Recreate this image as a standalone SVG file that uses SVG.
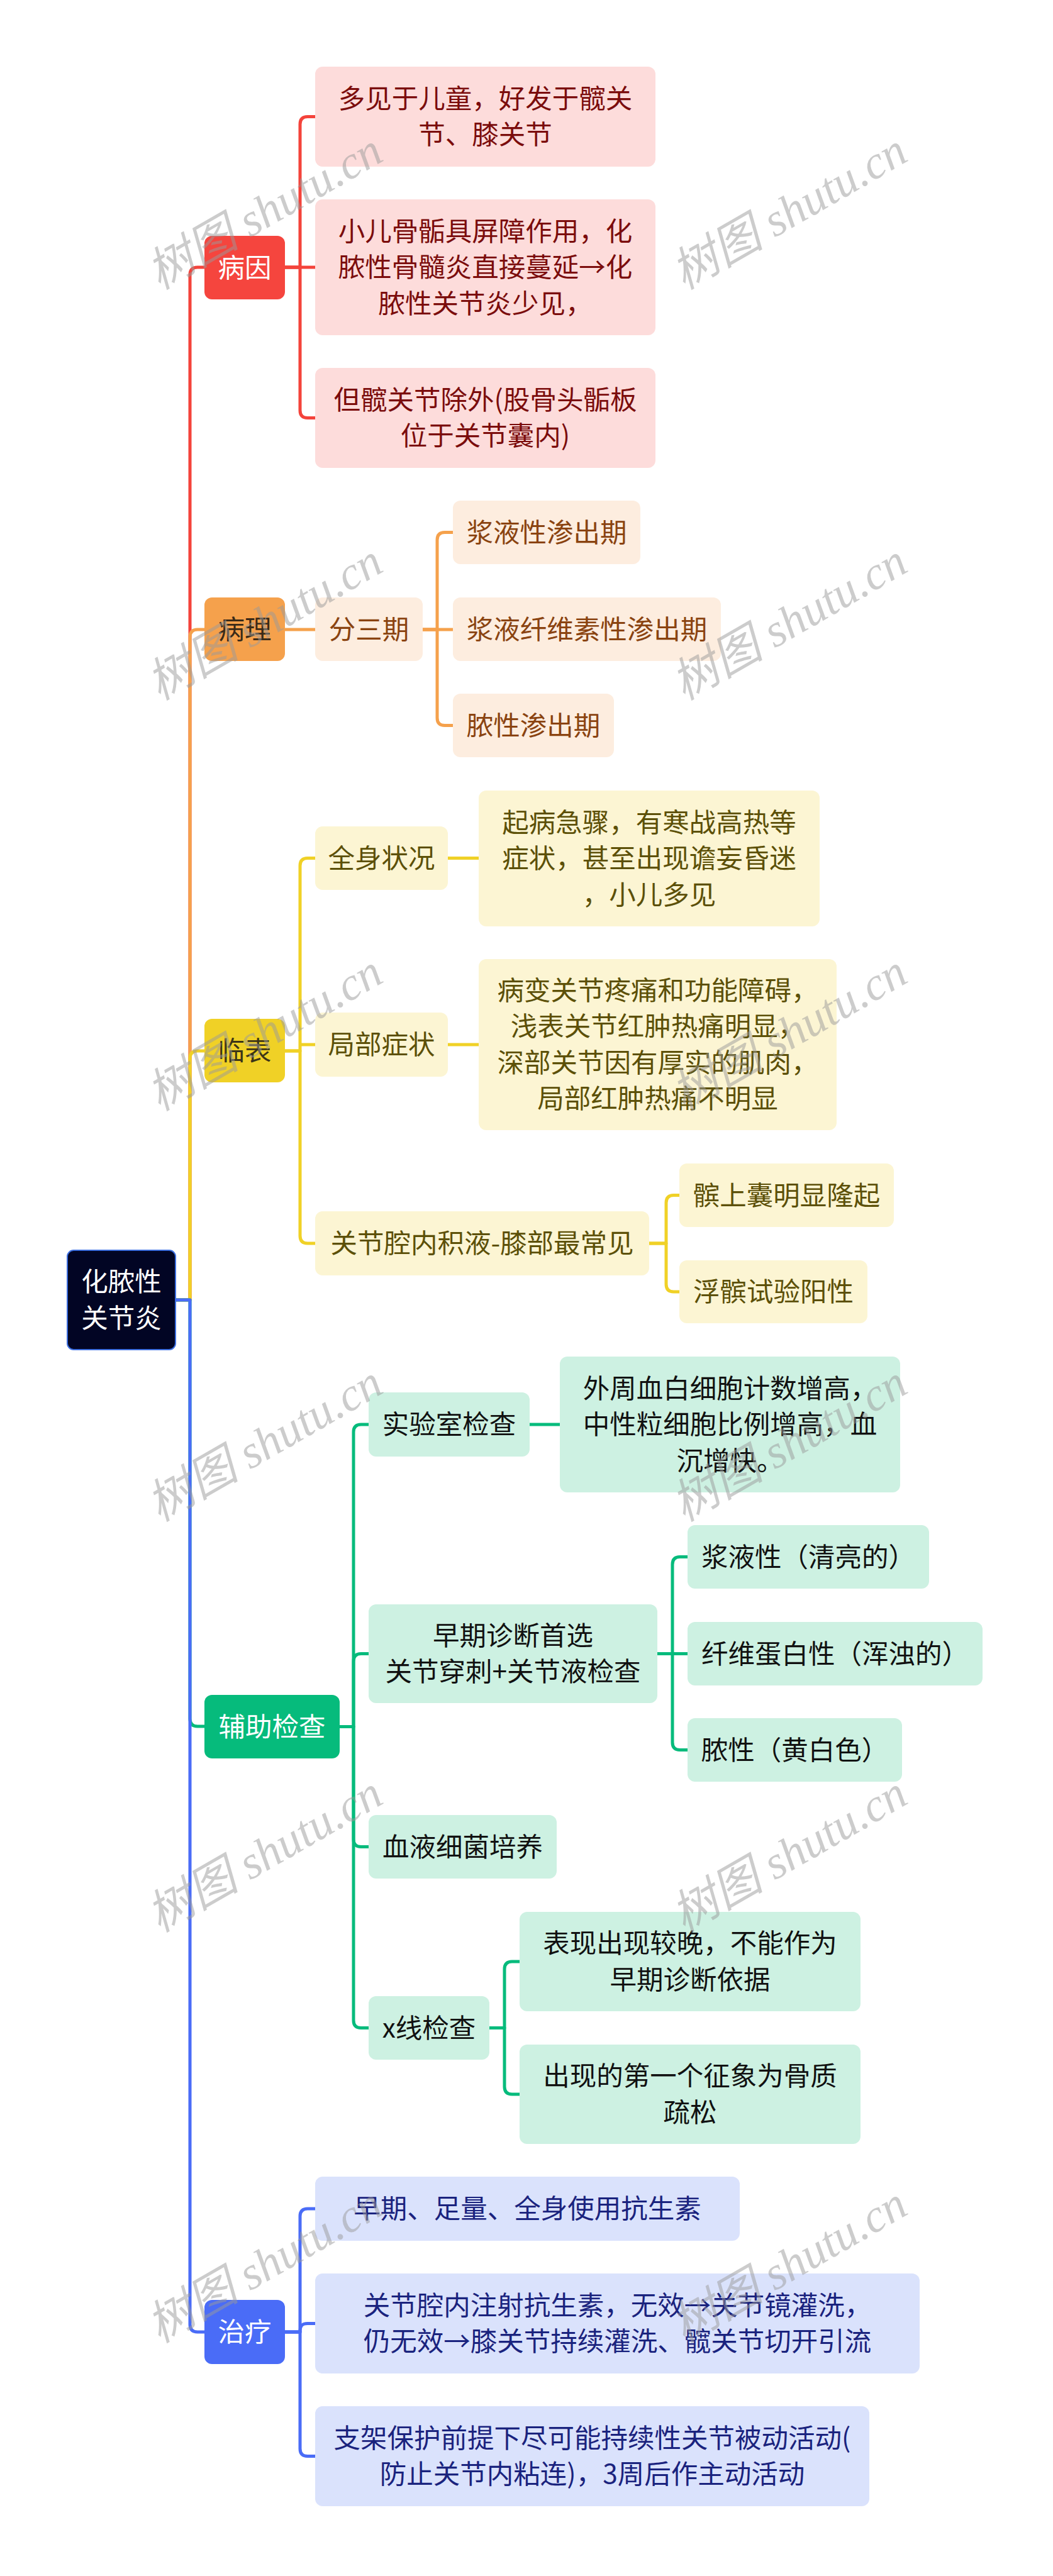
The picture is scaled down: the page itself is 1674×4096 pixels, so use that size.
<svg xmlns="http://www.w3.org/2000/svg" width="1674" height="4096" viewBox="0 0 1674 4096">
<style>
.t{font-family:"Noto Sans CJK SC","Noto Sans",sans-serif;font-size:42.5px;text-anchor:middle}
.c{fill:none;stroke-width:5;stroke-linecap:butt;stroke-linejoin:round}
.red{stroke:#F4433B}.org{stroke:#F5A14C}.yel{stroke:#F0D126}.grn{stroke:#06BB7C}.blu{stroke:#4A6CF7}
.r1{fill:#F5453E}.r2{fill:#FDDCDB}.tr1{fill:#FFFFFF}.tr2{fill:#7B0C0C}
.o1{fill:#F5A14C}.o2{fill:#FDEDDF}.to1{fill:#3A2A18}.to2{fill:#8A4310}
.y1{fill:#F0D126}.y2{fill:#FCF5D3}.ty1{fill:#3C3518}.ty2{fill:#5C5008}
.g1{fill:#06BB7C}.g2{fill:#CDF1E2}.tg1{fill:#FFFFFF}.tg2{fill:#111111}
.b1{fill:#4A6CF7}.b2{fill:#DAE2FC}.tb1{fill:#FFFFFF}.tb2{fill:#1A237E}
.wm{font-family:"Liberation Serif","Noto Sans CJK SC",serif;font-style:italic;font-size:74px;fill:#9a9a9a;fill-opacity:0.5;text-anchor:middle}
</style>
<rect x="0" y="0" width="1674" height="4096" fill="#FFFFFF"/>
<g id="connectors">
<path class="c red" d="M279,2067 H302 V437 Q302,425 314,425 H325"/>
<path class="c red" d="M453,425 H477 V197.5 Q477,185.5 489,185.5 H501"/>
<path class="c red" d="M453,425 H501"/>
<path class="c red" d="M453,425 H477 V652.5 Q477,664.5 489,664.5 H501"/>
<path class="c org" d="M279,2067 H302 V1013 Q302,1001 314,1001 H325"/>
<path class="c org" d="M453,1001 H501"/>
<path class="c org" d="M672,1001 H695 V858.5 Q695,846.5 707,846.5 H720"/>
<path class="c org" d="M672,1001 H720"/>
<path class="c org" d="M672,1001 H695 V1141.5 Q695,1153.5 707,1153.5 H720"/>
<path class="c yel" d="M279,2067 H302 V1683 Q302,1671 314,1671 H325"/>
<path class="c yel" d="M453,1671 H477 V1376.5 Q477,1364.5 489,1364.5 H501"/>
<path class="c yel" d="M477,1661 H501"/>
<path class="c yel" d="M453,1671 H477 V1965 Q477,1977 489,1977 H501"/>
<path class="c yel" d="M712,1364.5 H761"/>
<path class="c yel" d="M712,1661 H761"/>
<path class="c yel" d="M1032,1977 H1059 V1912.5 Q1059,1900.5 1071,1900.5 H1080"/>
<path class="c yel" d="M1032,1977 H1059 V2042 Q1059,2054 1071,2054 H1080"/>
<path class="c grn" d="M279,2067 H302 V2733 Q302,2745 314,2745 H325"/>
<path class="c grn" d="M540,2745.5 H562 V2277 Q562,2265 574,2265 H586"/>
<path class="c grn" d="M540,2745.5 H562 V2641.5 Q562,2629.5 574,2629.5 H586"/>
<path class="c grn" d="M540,2745.5 H562 V2924.5 Q562,2936.5 574,2936.5 H586"/>
<path class="c grn" d="M540,2745.5 H562 V3212.5 Q562,3224.5 574,3224.5 H586"/>
<path class="c grn" d="M842,2265 H890"/>
<path class="c grn" d="M1045,2629.5 H1069 V2487.5 Q1069,2475.5 1081,2475.5 H1093"/>
<path class="c grn" d="M1045,2629.5 H1093"/>
<path class="c grn" d="M1045,2629.5 H1069 V2770.5 Q1069,2782.5 1081,2782.5 H1093"/>
<path class="c grn" d="M778,3224.5 H802 V3131 Q802,3119 814,3119 H826"/>
<path class="c grn" d="M778,3224.5 H802 V3318 Q802,3330 814,3330 H826"/>
<path class="c blu" d="M279,2067 H302 V3696 Q302,3708 314,3708 H325"/>
<path class="c blu" d="M453,3708 H477 V3524 Q477,3512 489,3512 H501"/>
<path class="c blu" d="M453,3708 H477 C477,3698 480,3694.5 489,3694.5 H501"/>
<path class="c blu" d="M453,3708 H477 V3893.5 Q477,3905.5 489,3905.5 H501"/>
</g>
<g id="root">
<rect x="107" y="1988" width="172" height="158" rx="10" fill="#020524" stroke="#3D6FE0" stroke-width="2"/>
<text class="t" fill="#FFFFFF"><tspan x="193" y="2053">化脓性</tspan><tspan x="193" y="2111">关节炎</tspan></text>
</g>
<g id="n-bingyin">
<rect class="r1" x="325" y="375" width="128" height="101" rx="12"/>
<text class="t tr1" x="389" y="440.5">病因</text>
</g>
<g id="n-by1">
<rect class="r2" x="501" y="106" width="541" height="159" rx="12"/>
<text class="t tr2"><tspan x="771.5" y="171.75">多见于儿童，好发于髋关</tspan><tspan x="771.5" y="229.25">节、膝关节</tspan></text>
</g>
<g id="n-by2">
<rect class="r2" x="501" y="317" width="541" height="216" rx="12"/>
<text class="t tr2"><tspan x="771.5" y="382.5">小儿骨骺具屏障作用，化</tspan><tspan x="771.5" y="440">脓性骨髓炎直接蔓延→化</tspan><tspan x="771.5" y="497.5">脓性关节炎少见，</tspan></text>
</g>
<g id="n-by3">
<rect class="r2" x="501" y="585" width="541" height="159" rx="12"/>
<text class="t tr2"><tspan x="771.5" y="650.75">但髋关节除外(股骨头骺板</tspan><tspan x="771.5" y="708.25">位于关节囊内)</tspan></text>
</g>
<g id="n-bingli">
<rect class="o1" x="325" y="950" width="128" height="101" rx="12"/>
<text class="t to1" x="389" y="1015.5">病理</text>
</g>
<g id="n-fensanqi">
<rect class="o2" x="501" y="950" width="171" height="101" rx="12"/>
<text class="t to2" x="586.5" y="1015.5">分三期</text>
</g>
<g id="n-bl1">
<rect class="o2" x="720" y="796" width="298" height="101" rx="12"/>
<text class="t to2" x="869" y="861.5">浆液性渗出期</text>
</g>
<g id="n-bl2">
<rect class="o2" x="720" y="950" width="426" height="101" rx="12"/>
<text class="t to2" x="933" y="1015.5">浆液纤维素性渗出期</text>
</g>
<g id="n-bl3">
<rect class="o2" x="720" y="1103" width="256" height="101" rx="12"/>
<text class="t to2" x="848" y="1168.5">脓性渗出期</text>
</g>
<g id="n-linbiao">
<rect class="y1" x="325" y="1620" width="128" height="101" rx="12"/>
<text class="t ty1" x="389" y="1685.5">临表</text>
</g>
<g id="n-quanshen">
<rect class="y2" x="501" y="1314" width="211" height="101" rx="12"/>
<text class="t ty2" x="606.5" y="1379.5">全身状况</text>
</g>
<g id="n-qibing">
<rect class="y2" x="761" y="1257" width="542" height="216" rx="12"/>
<text class="t ty2"><tspan x="1032" y="1322.5">起病急骤，有寒战高热等</tspan><tspan x="1032" y="1380">症状，甚至出现谵妄昏迷</tspan><tspan x="1032" y="1437.5">，小儿多见</tspan></text>
</g>
<g id="n-jubu">
<rect class="y2" x="501" y="1610" width="211" height="102" rx="12"/>
<text class="t ty2" x="606.5" y="1676">局部症状</text>
</g>
<g id="n-bianbian">
<rect class="y2" x="761" y="1525" width="569" height="272" rx="12"/>
<text class="t ty2"><tspan x="1045.5" y="1589.75">病变关节疼痛和功能障碍，</tspan><tspan x="1045.5" y="1647.25">浅表关节红肿热痛明显，</tspan><tspan x="1045.5" y="1704.75">深部关节因有厚实的肌肉，</tspan><tspan x="1045.5" y="1762.25">局部红肿热痛不明显</tspan></text>
</g>
<g id="n-jiye">
<rect class="y2" x="501" y="1926" width="531" height="102" rx="12"/>
<text class="t ty2" x="766.5" y="1992">关节腔内积液-膝部最常见</text>
</g>
<g id="n-binshang">
<rect class="y2" x="1080" y="1850" width="341" height="101" rx="12"/>
<text class="t ty2" x="1250.5" y="1915.5">髌上囊明显隆起</text>
</g>
<g id="n-fubin">
<rect class="y2" x="1080" y="2004" width="299" height="100" rx="12"/>
<text class="t ty2" x="1229.5" y="2069">浮髌试验阳性</text>
</g>
<g id="n-fuzhu">
<rect class="g1" x="325" y="2695" width="215" height="101" rx="12"/>
<text class="t tg1" x="432.5" y="2760.5">辅助检查</text>
</g>
<g id="n-shiyan">
<rect class="g2" x="586" y="2214" width="256" height="102" rx="12"/>
<text class="t tg2" x="714" y="2280">实验室检查</text>
</g>
<g id="n-waizhou">
<rect class="g2" x="890" y="2157" width="541" height="216" rx="12"/>
<text class="t tg2"><tspan x="1160.5" y="2222.5">外周血白细胞计数增高，</tspan><tspan x="1160.5" y="2280">中性粒细胞比例增高，血</tspan><tspan x="1160.5" y="2337.5">沉增快。</tspan></text>
</g>
<g id="n-zaoqi">
<rect class="g2" x="586" y="2551" width="459" height="157" rx="12"/>
<text class="t tg2"><tspan x="815.5" y="2615.75">早期诊断首选</tspan><tspan x="815.5" y="2673.25">关节穿刺+关节液检查</tspan></text>
</g>
<g id="n-jiangye">
<rect class="g2" x="1093" y="2425" width="384" height="101" rx="12"/>
<text class="t tg2" x="1285" y="2490.5">浆液性（清亮的）</text>
</g>
<g id="n-xianwei">
<rect class="g2" x="1093" y="2579" width="469" height="101" rx="12"/>
<text class="t tg2" x="1327.5" y="2644.5">纤维蛋白性（浑浊的）</text>
</g>
<g id="n-nongxing">
<rect class="g2" x="1093" y="2732" width="341" height="101" rx="12"/>
<text class="t tg2" x="1263.5" y="2797.5">脓性（黄白色）</text>
</g>
<g id="n-xueye">
<rect class="g2" x="586" y="2886" width="299" height="101" rx="12"/>
<text class="t tg2" x="735.5" y="2951.5">血液细菌培养</text>
</g>
<g id="n-xxian">
<rect class="g2" x="586" y="3174" width="192" height="101" rx="12"/>
<text class="t tg2" x="682" y="3239.5">x线检查</text>
</g>
<g id="n-biaoxian">
<rect class="g2" x="826" y="3040" width="542" height="158" rx="12"/>
<text class="t tg2"><tspan x="1097" y="3105.25">表现出现较晚，不能作为</tspan><tspan x="1097" y="3162.75">早期诊断依据</tspan></text>
</g>
<g id="n-diyige">
<rect class="g2" x="826" y="3251" width="542" height="158" rx="12"/>
<text class="t tg2"><tspan x="1097" y="3316.25">出现的第一个征象为骨质</tspan><tspan x="1097" y="3373.75">疏松</tspan></text>
</g>
<g id="n-zhiliao">
<rect class="b1" x="325" y="3657" width="128" height="102" rx="12"/>
<text class="t tb1" x="389" y="3723">治疗</text>
</g>
<g id="n-zl1">
<rect class="b2" x="501" y="3461" width="675" height="102" rx="12"/>
<text class="t tb2" x="838.5" y="3527">早期、足量、全身使用抗生素</text>
</g>
<g id="n-zl2">
<rect class="b2" x="501" y="3615" width="961" height="159" rx="12"/>
<text class="t tb2"><tspan x="981.5" y="3680.75">关节腔内注射抗生素，无效→关节镜灌洗，</tspan><tspan x="981.5" y="3738.25">仍无效→膝关节持续灌洗、髋关节切开引流</tspan></text>
</g>
<g id="n-zl3">
<rect class="b2" x="501" y="3826" width="881" height="159" rx="12"/>
<text class="t tb2"><tspan x="941.5" y="3891.75">支架保护前提下尽可能持续性关节被动活动(</tspan><tspan x="941.5" y="3949.25">防止关节内粘连)，3周后作主动活动</tspan></text>
</g>
<g id="watermarks">
<text class="wm" transform="translate(421,337) rotate(-30)" y="24">树图 shutu.cn</text>
<text class="wm" transform="translate(1255,337) rotate(-30)" y="24">树图 shutu.cn</text>
<text class="wm" transform="translate(421,990) rotate(-30)" y="24">树图 shutu.cn</text>
<text class="wm" transform="translate(1255,990) rotate(-30)" y="24">树图 shutu.cn</text>
<text class="wm" transform="translate(421,1643) rotate(-30)" y="24">树图 shutu.cn</text>
<text class="wm" transform="translate(1255,1643) rotate(-30)" y="24">树图 shutu.cn</text>
<text class="wm" transform="translate(421,2296) rotate(-30)" y="24">树图 shutu.cn</text>
<text class="wm" transform="translate(1255,2296) rotate(-30)" y="24">树图 shutu.cn</text>
<text class="wm" transform="translate(421,2949) rotate(-30)" y="24">树图 shutu.cn</text>
<text class="wm" transform="translate(1255,2949) rotate(-30)" y="24">树图 shutu.cn</text>
<text class="wm" transform="translate(421,3602) rotate(-30)" y="24">树图 shutu.cn</text>
<text class="wm" transform="translate(1255,3602) rotate(-30)" y="24">树图 shutu.cn</text>
</g>
</svg>
